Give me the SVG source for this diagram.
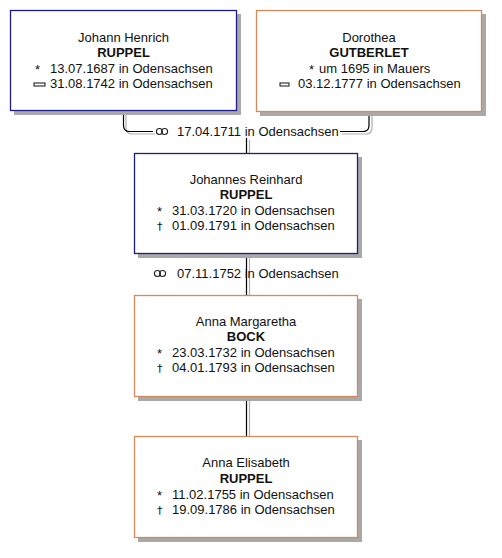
<svg xmlns="http://www.w3.org/2000/svg" width="502" height="558" viewBox="0 0 502 558">
<defs>
<g id="rings"><circle cx="-2.6" cy="0" r="3" fill="none" stroke="#222" stroke-width="1.1"/><circle cx="2.6" cy="0" r="3" fill="none" stroke="#222" stroke-width="1.1"/></g>
</defs>
<style>
.shadow{fill:#a9a9a9}
.m{fill:#fff;stroke:#1c1c8c;stroke-width:1.3}
.f{fill:#fff;stroke:#d4885c;stroke-width:1.3}
text{font-family:"Liberation Sans","DejaVu Sans",Arial,sans-serif;font-size:13px;fill:#111}
.c{text-anchor:middle}
.b{font-weight:bold}
.sym{font-family:"DejaVu Sans",sans-serif;font-size:11px}
.ln{fill:none;stroke:#000;stroke-width:1.2}
.lns{fill:none;stroke:#b0b0b0;stroke-width:1.2}
</style>
<rect width="502" height="558" fill="#fff"/>
<g id="connectors">
<path class="lns" d="M126,113 V128 Q126,134 132,134 H155 M342,134 H366 Q372,134 372,128 V113 M249.5,140 V153 M249.5,256 V295 M249.5,399 V436"/>
<path class="ln" d="M123.5,111 V125.5 Q123.5,131.5 129.5,131.5 H153 M340,131.5 H363 Q369,131.5 369,125.5 V111 M246.5,138 V153 M246.5,254 V295 M246.5,397 V436"/>
<use href="#rings" x="162" y="131.5"/>
<text x="177" y="136">17.04.1711 in Odensachsen</text>
<use href="#rings" x="160" y="273.5"/>
<text x="177" y="278">07.11.1752 in Odensachsen</text>
</g>
<g id="n1">
<rect class="shadow" x="14" y="14" width="227" height="101"/>
<rect class="m" x="10.5" y="10.5" width="226" height="100"/>
<text x="123.5" y="42" class="c">Johann Henrich</text>
<text x="123.5" y="57" class="c b">RUPPEL</text>
<text x="35" y="74">*</text><text x="50" y="73">13.07.1687 in Odensachsen</text>
<rect x="34" y="83" width="11" height="3" fill="none" stroke="#111" stroke-width="1"/><text x="50" y="88">31.08.1742 in Odensachsen</text>
</g>
<g id="n2">
<rect class="shadow" x="260" y="14" width="226" height="102"/>
<rect class="f" x="256.5" y="10.5" width="225" height="101"/>
<text x="369" y="42" class="c">Dorothea</text>
<text x="369" y="57" class="c b">GUTBERLET</text>
<text x="309" y="74">*</text><text x="319" y="73">um 1695 in Mauers</text>
<rect x="280" y="83" width="9" height="3" fill="none" stroke="#111" stroke-width="1"/><text x="298" y="88">03.12.1777 in Odensachsen</text>
</g>
<g id="n3">
<rect class="shadow" x="138" y="157" width="224" height="101"/>
<rect class="m" x="134.5" y="153.5" width="223" height="100"/>
<text x="246" y="184" class="c">Johannes Reinhard</text>
<text x="246" y="199" class="c b">RUPPEL</text>
<text x="157" y="216">*</text><text x="172" y="215">31.03.1720 in Odensachsen</text>
<text x="157" y="230" class="sym">†</text><text x="172" y="230">01.09.1791 in Odensachsen</text>
</g>
<g id="n4">
<rect class="shadow" x="138" y="299" width="224" height="102"/>
<rect class="f" x="134.5" y="295.5" width="223" height="101"/>
<text x="246" y="326" class="c">Anna Margaretha</text>
<text x="246" y="341" class="c b">BOCK</text>
<text x="157" y="358">*</text><text x="172" y="357">23.03.1732 in Odensachsen</text>
<text x="157" y="372" class="sym">†</text><text x="172" y="372">04.01.1793 in Odensachsen</text>
</g>
<g id="n5">
<rect class="shadow" x="138" y="440" width="224" height="102"/>
<rect class="f" x="134.5" y="436.5" width="223" height="101"/>
<text x="246" y="467" class="c">Anna Elisabeth</text>
<text x="246" y="483" class="c b">RUPPEL</text>
<text x="157" y="500">*</text><text x="172" y="499">11.02.1755 in Odensachsen</text>
<text x="157" y="514" class="sym">†</text><text x="172" y="514">19.09.1786 in Odensachsen</text>
</g>
</svg>
